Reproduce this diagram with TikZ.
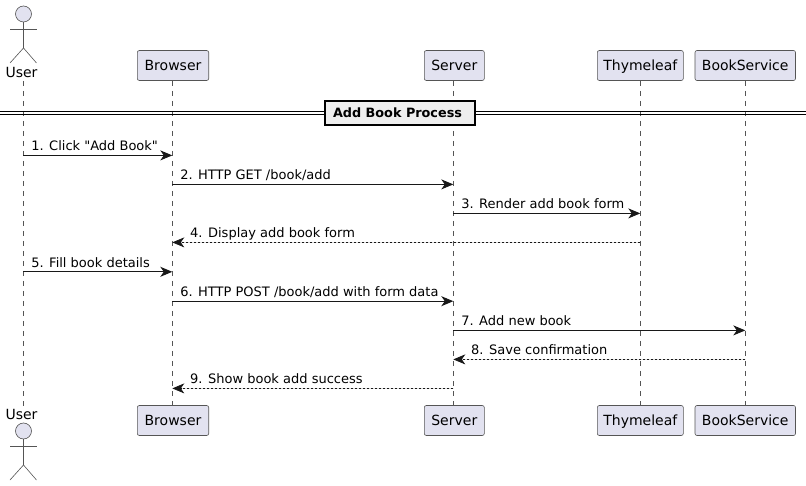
\documentclass[tikz,border=0pt]{standalone}
\usepackage{fontspec}
\newfontfamily\diagramfont{DejaVu Sans}
\usetikzlibrary{arrows.meta,positioning,backgrounds}
\definecolor{partfill}{HTML}{E2E2F0}
\definecolor{partline}{HTML}{555555}
\definecolor{msgline}{HTML}{181818}
\definecolor{sepfill}{HTML}{EEEEEE}
\tikzset{
  partbox/.style={
    rounded corners=2pt,
    draw=partline,
    fill=partfill,
    line width=0.6pt,
    minimum height=30pt,
    text height=10.5pt,
    text depth=0pt,
    inner sep=0pt,
    outer sep=0pt,
    font=\diagramfont\fontsize{14}{16}\selectfont
  },
  actorname/.style={
    inner sep=0pt,
    font=\diagramfont\fontsize{14}{16}\selectfont
  },
  actorhead/.style={
    circle,
    draw=partline,
    fill=partfill,
    line width=0.6pt,
    minimum size=16pt,
    inner sep=0pt
  },
  actorline/.style={
    draw=partline,
    line width=0.6pt
  },
  lifeline/.style={
    draw=partline,
    line width=0.6pt,
    dash pattern=on 5pt off 5pt
  },
  call/.style={
    -{Stealth[length=12pt,width=10pt,inset=3.5pt]},
    draw=msgline,
    fill=msgline,
    line width=1pt
  },
  reply/.style={
    -{Stealth[length=12pt,width=10pt,inset=3.5pt]},
    draw=msgline,
    fill=msgline,
    line width=0.8pt,
    dash pattern=on 2pt off 2pt
  },
  msgtext/.style={
    anchor=base west,
    inner sep=0pt,
    font=\diagramfont\fontsize{13}{15}\selectfont
  },
  sepline/.style={
    draw=black,
    line width=1pt
  },
  sepbox/.style={
    draw=black,
    fill=sepfill,
    line width=1.5pt,
    minimum width=150pt,
    minimum height=24pt,
    inner sep=0pt,
    font=\diagramfont\bfseries\fontsize{12.8}{15}\selectfont
  }
}
\begin{document}
\begin{tikzpicture}[x=1pt,y=-1pt]
\useasboundingbox (0,0) rectangle (806,486);
% participants, top row
\node[partbox, minimum width=71.4pt] (browser) at (173,65.5) {Browser};
\node[partbox, minimum width=60pt, right=215.6pt of browser] (server) {Server};
\node[partbox, minimum width=86pt, right=113pt of server] (thymeleaf) {Thymeleaf};
\node[partbox, minimum width=100.5pt, right=11.7pt of thymeleaf] (bookservice) {BookService};
% participants, bottom row
\node[partbox, minimum width=71.4pt, below=325pt of browser] (browserb) {Browser};
\node[partbox, minimum width=60pt, below=325pt of server] (serverb) {Server};
\node[partbox, minimum width=86pt, below=325pt of thymeleaf] (thymeleafb) {Thymeleaf};
\node[partbox, minimum width=100.5pt, below=325pt of bookservice] (bookserviceb) {BookService};
% actor at the top
\node[actorname] (user) at (21.5,72.5) {User};
\node[actorhead] (head) at (23.5,14) {};
\coordinate (hip) at (23.5,48);
\draw[actorline] (head) -- (hip);
\draw[actorline] (10,29) -- (36.5,29);
\draw[actorline] (10,63) -- (hip) -- (36.5,63);
% actor at the bottom
\node[actorname] (userb) at (21.5,414) {User};
\node[actorhead] (headb) at (23.5,431) {};
\coordinate (hipb) at (23.5,465);
\draw[actorline] (headb) -- (hipb);
\draw[actorline] (10,446) -- (36.5,446);
\draw[actorline] (10,480) -- (hipb) -- (36.5,480);
% lifelines
\begin{scope}[on background layer]
\foreach \part/\x in {user/23.3,browser/172.3,server/453.3,thymeleaf/640.3,bookservice/745.3}{
  \coordinate (\part-life) at (\x,81);
  \coordinate (\part-lifeb) at (\x,405.5);
  \draw[lifeline] (\part-life) -- (\part-lifeb);
}
\end{scope}
% divider
\coordinate (sepleft) at (0,111.5);
\coordinate (sepright) at (806,111.5);
\coordinate (sepleftb) at (0,114.5);
\coordinate (seprightb) at (806,114.5);
\draw[sepline] (sepleft) -- (sepright);
\draw[sepline] (sepleftb) -- (seprightb);
\node[sepbox] (process) at (400,113) {Add Book Process\kern5pt};
% messages
\foreach \n/\y in {1/155.4,2/184.4,3/213.4,4/242.4,5/271.8,6/301.2,7/330.4,8/359.4,9/388.4}
  \coordinate (row\n) at (0,\y);
\draw[call] (user-life |- row1) -- (browser-life |- row1) node[msgtext, pos=0, xshift=7.5pt, yshift=4.5pt] (msga) {1. Click "Add Book"};
\draw[call] (browser-life |- row2) -- (server-life |- row2) node[msgtext, pos=0, xshift=7.5pt, yshift=4.5pt] (msgb) {2. HTTP GET /book/add};
\draw[call] (server-life |- row3) -- (thymeleaf-life |- row3) node[msgtext, pos=0, xshift=7.5pt, yshift=4.5pt] (msgc) {3. Render add book form};
\draw[reply] (thymeleaf-life |- row4) -- (browser-life |- row4) node[msgtext, pos=1, xshift=17.5pt, yshift=4.5pt] (msgd) {4. Display add book form};
\draw[call] (user-life |- row5) -- (browser-life |- row5) node[msgtext, pos=0, xshift=7.5pt, yshift=4.5pt] (msge) {5. Fill book details};
\draw[call] (browser-life |- row6) -- (server-life |- row6) node[msgtext, pos=0, xshift=7.5pt, yshift=4.5pt] (msgf) {6. HTTP POST /book/add with form data};
\draw[call] (server-life |- row7) -- (bookservice-life |- row7) node[msgtext, pos=0, xshift=7.5pt, yshift=4.5pt] (msgg) {7. Add new book};
\draw[reply] (bookservice-life |- row8) -- (server-life |- row8) node[msgtext, pos=1, xshift=17.5pt, yshift=4.5pt] (msgh) {8. Save confirmation};
\draw[reply] (server-life |- row9) -- (browser-life |- row9) node[msgtext, pos=1, xshift=17.5pt, yshift=4.5pt] (msgi) {9. Show book add success};
\end{tikzpicture}
\end{document}
